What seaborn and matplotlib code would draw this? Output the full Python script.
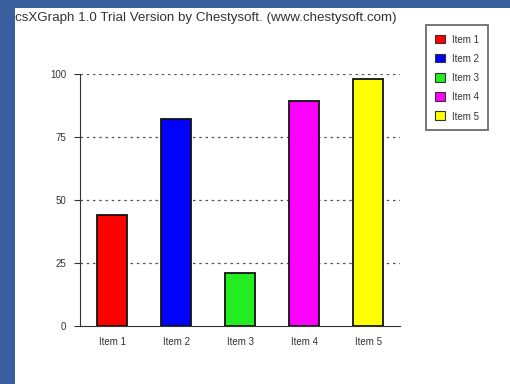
import matplotlib
matplotlib.use("Agg")
import matplotlib.pyplot as plt
import seaborn as sns
import pandas as pd
from matplotlib.patches import Rectangle, Patch

# datos
items = ["Item 1", "Item 2", "Item 3", "Item 4", "Item 5"]
valores = [44, 82, 21, 89, 98]
colores = ["#ff0000", "#0000ff", "#22ee22", "#ff00ff", "#ffff00"]
ticks_y = [0, 25, 50, 75, 100]

df = pd.DataFrame({"item": items, "valor": valores})

sns.set_style("white")
plt.rcParams["font.family"] = ["Liberation Sans", "DejaVu Sans"]

fig = plt.figure(figsize=(5.104, 3.844), dpi=100, facecolor="white")
# bordes azules (arriba e izquierda)
azul = "#3a5f9f"
fig.patches.append(Rectangle((0, 0), 15 / 510, 1, transform=fig.transFigure,
                             facecolor=azul, edgecolor="none", zorder=-5))
fig.patches.append(Rectangle((0, 1 - 8 / 384), 1, 8 / 384, transform=fig.transFigure,
                             facecolor=azul, edgecolor="none", zorder=-5))

ax = fig.add_axes([80 / 510, 1 - 326 / 384, 320 / 510, 252 / 384])
ax.set_facecolor("none")
sns.barplot(data=df, x="item", y="valor", hue="item", palette=colores, saturation=1,
            width=0.47, edgecolor="#111111", linewidth=1.3, legend=False, ax=ax, zorder=3)

ax.set_ylim(0, 100)
ax.set_yticks(ticks_y)
for t in ticks_y[1:]:
    ax.axhline(t, color="#555555", linestyle=(0, (2, 3)), linewidth=0.9, zorder=1)
ax.set_xlabel("")
ax.set_ylabel("")
for s in ["top", "right"]:
    ax.spines[s].set_visible(False)
ax.spines["left"].set_color("#333333")
ax.spines["bottom"].set_color("#333333")
ax.tick_params(axis="y", left=True, length=4, color="#333333", labelsize=7,
               labelcolor="#333333", pad=6)
ax.tick_params(axis="x", bottom=False, labelsize=7, labelcolor="#333333", pad=4)

fig.text(15 / 510, 1 - 18 / 384, "csXGraph 1.0 Trial Version by Chestysoft. (www.chestysoft.com)",
         fontsize=9.6, color="#333333", va="center", ha="left")

handles = [Patch(facecolor=c, edgecolor="#333333", linewidth=0.8) for c in colores]
leg = fig.legend(handles, items, loc="upper left", bbox_to_anchor=(421 / 510, 1 - 21 / 384),
                 fontsize=7, frameon=True, fancybox=False, edgecolor="#555555",
                 handlelength=1.0, handleheight=1.0, handletextpad=0.8,
                 labelspacing=0.95, borderpad=0.9, labelcolor="#333333")
leg.get_frame().set_linewidth(1.4)

fig.savefig("out.png", dpi=100, facecolor=fig.get_facecolor())
